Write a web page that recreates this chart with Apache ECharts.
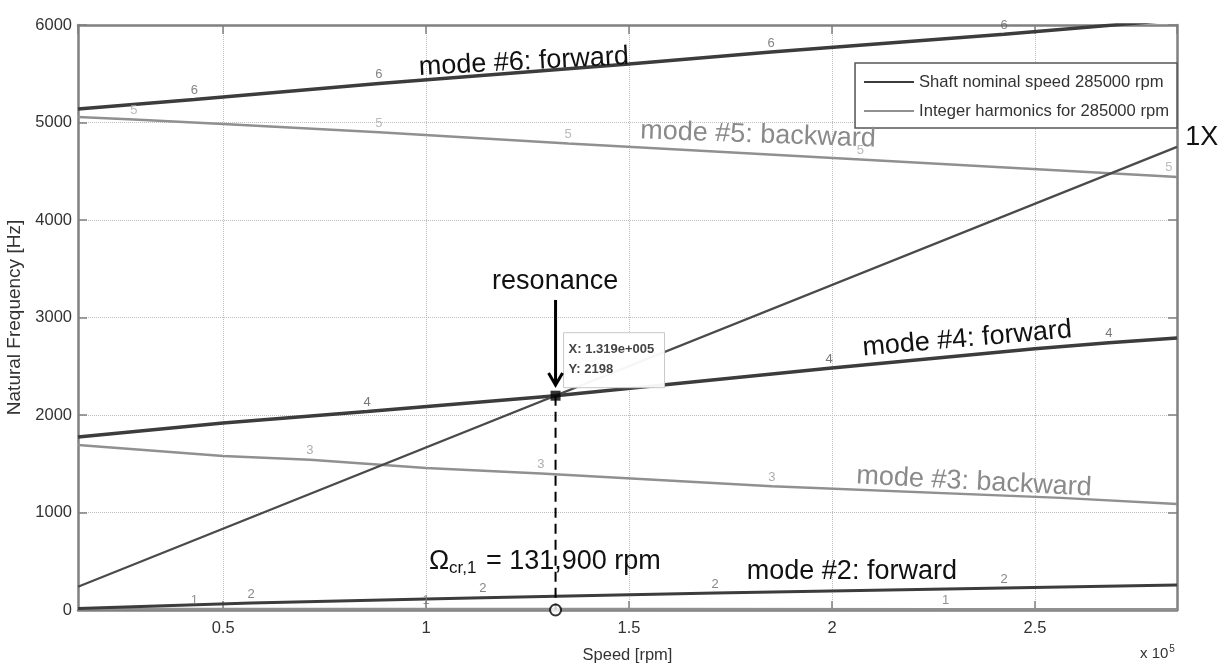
<!DOCTYPE html>
<html>
<head>
<meta charset="utf-8">
<script src="https://cdn.jsdelivr.net/npm/echarts@6/dist/echarts.min.js"></script>
<style>
html,body{margin:0;padding:0;background:#fff;}
#chart{width:1221px;height:664px;}
</style>
</head>
<body>
<div id="chart"></div>
<script>
// ---------------- data ----------------
const speedMin = 14250, speedMax = 285000;     // rpm
const freqMin = 0, freqMax = 6000, freqStep = 1000; // Hz

const mode1Speed = [14250, 42900, 100000, 150000, 228000, 285000];
const mode1Freq  = [12, 11, 10, 9, 8, 8];
const mode1Labels = [42900, 100000, 228000];

const mode2Speed = [14250, 56900, 100000, 114000, 171200, 242400, 285000];
const mode2Freq  = [15, 72, 113, 125, 174, 225, 256];
const mode2Labels = [56900, 114000, 171200, 242400];

const mode3Speed = [14250, 50000, 71400, 100000, 128300, 185200, 256400, 285000];
const mode3Freq  = [1692, 1580, 1540, 1456, 1400, 1270, 1150, 1087];
const mode3Labels = [71400, 128300, 185200];

const mode4Speed = [14250, 50000, 85500, 131900, 199300, 250000, 268200, 285000];
const mode4Freq  = [1775, 1918, 2035, 2198, 2480, 2680, 2740, 2790];
const mode4Labels = [85500, 199300, 268200];

const mode5Speed = [14250, 28000, 50000, 88400, 135000, 207000, 283000, 285000];
const mode5Freq  = [5056, 5030, 4985, 4900, 4785, 4620, 4446, 4441];
const mode5Labels = [28000, 88400, 135000, 207000, 283000];

const mode6Speed = [14250, 42900, 88400, 150000, 185000, 242400, 285000];
const mode6Freq  = [5138, 5235, 5400, 5600, 5723, 5905, 6055];
const mode6Labels = [42900, 88400, 185000, 242400];

const oneXSpeed = [14250, 285000];
const oneXFreq  = [237.5, 4750];

const resonance = [131900, 2198];
const legendNames = ['Shaft nominal speed 285000 rpm', 'Integer harmonics for 285000 rpm'];

// ---------------- styles ----------------
const FONT = 'Liberation Sans';
const DARK = '#3c3c3c', GRAY = '#909090', AXIS = '#808080';

function pts(s, f) { return s.map((v, i) => [v, f[i]]); }

function modeLine(name, s, f, color, width) {
  return { type: 'line', name: name, data: pts(s, f), symbol: 'none', showSymbol: false,
    lineStyle: { color: color, width: width }, itemStyle: { color: color }, z: 3, silent: true };
}
function modeTags(tag, s, f, marks, color) {
  return { type: 'scatter', data: pts(s, f).filter(p => marks.indexOf(p[0]) >= 0),
    symbolSize: 1, itemStyle: { color: 'rgba(0,0,0,0)' }, z: 4, silent: true,
    label: { show: true, position: 'top', distance: 2, formatter: tag,
      fontFamily: FONT, fontSize: 13, color: color } };
}

const chart = echarts.init(document.getElementById('chart'));

const axisCommonX = { type: 'value', min: speedMin, max: speedMax };
const option = {
  animation: false,
  backgroundColor: '#fff',
  grid: { left: 78, right: 44, top: 25, bottom: 54, containLabel: false, outerBoundsMode: 'none' },
  legend: {
    data: legendNames, orient: 'vertical', right: 44, top: 63,
    icon: 'rect', itemWidth: 50, itemHeight: 2, itemGap: 11,
    backgroundColor: '#fff', borderColor: '#555', borderWidth: 1.5,
    padding: [10, 8, 8, 9],
    textStyle: { fontFamily: FONT, fontSize: 16.6, lineHeight: 18, color: '#333' }
  },
  xAxis: [
    Object.assign({}, axisCommonX, {
      position: 'bottom',
      name: 'Speed [rpm]', nameLocation: 'middle', nameGap: 37,
      nameTextStyle: { fontFamily: FONT, fontSize: 16.5, color: '#333' },
      axisLine: { onZero: false, lineStyle: { color: AXIS, width: 2.5 } },
      axisTick: { inside: true, length: 9, lineStyle: { color: AXIS, width: 1.5 } },
      axisLabel: { showMinLabel: false, showMaxLabel: false, margin: 10,
        fontFamily: FONT, fontSize: 16.5, color: '#333',
        formatter: v => String(+(v / 1e5).toFixed(2)) },
      splitLine: { show: true, lineStyle: { type: 'dotted', color: '#bdbdbd', width: 1 } }
    }),
    Object.assign({}, axisCommonX, {
      position: 'top',
      axisLine: { onZero: false, lineStyle: { color: AXIS, width: 2.5 } },
      axisTick: { inside: true, length: 9, lineStyle: { color: AXIS, width: 1.5 } },
      axisLabel: { show: false }, splitLine: { show: false }
    })
  ],
  yAxis: [
    { type: 'value', min: freqMin, max: freqMax, interval: freqStep, position: 'left',
      name: 'Natural Frequency [Hz]', nameLocation: 'middle', nameGap: 51,
      nameTextStyle: { fontFamily: FONT, fontSize: 19, color: '#333' },
      axisLine: { onZero: false, lineStyle: { color: AXIS, width: 2.5 } },
      axisTick: { inside: true, length: 9, lineStyle: { color: AXIS, width: 1.5 } },
      axisLabel: { margin: 6, fontFamily: FONT, fontSize: 16.5, color: '#333', formatter: v => String(v) },
      splitLine: { show: true, lineStyle: { type: 'dotted', color: '#bdbdbd', width: 1 } } },
    { type: 'value', min: freqMin, max: freqMax, interval: freqStep, position: 'right',
      axisLine: { onZero: false, lineStyle: { color: AXIS, width: 2.5 } },
      axisTick: { inside: true, length: 9, lineStyle: { color: AXIS, width: 1.5 } },
      axisLabel: { show: false }, splitLine: { show: false } }
  ],
  series: [
    { type: 'line', name: legendNames[0], data: [], symbol: 'none',
      lineStyle: { color: DARK, width: 2 }, itemStyle: { color: DARK } },
    { type: 'line', name: legendNames[1], data: [], symbol: 'none',
      lineStyle: { color: GRAY, width: 2 }, itemStyle: { color: GRAY } },
    modeLine('mode 1', mode1Speed, mode1Freq, GRAY, 2.5),
    modeLine('mode 2', mode2Speed, mode2Freq, DARK, 3),
    modeLine('mode 3', mode3Speed, mode3Freq, GRAY, 2.5),
    modeLine('mode 4', mode4Speed, mode4Freq, DARK, 3.5),
    modeLine('mode 5', mode5Speed, mode5Freq, GRAY, 2.5),
    modeLine('mode 6', mode6Speed, mode6Freq, DARK, 3.5),
    modeLine('1X', oneXSpeed, oneXFreq, '#4a4a4a', 2.2),
    modeTags('1', mode1Speed, mode1Freq, mode1Labels, '#777'),
    modeTags('2', mode2Speed, mode2Freq, mode2Labels, '#666'),
    modeTags('3', mode3Speed, mode3Freq, mode3Labels, '#999'),
    modeTags('4', mode4Speed, mode4Freq, mode4Labels, '#555'),
    modeTags('5', mode5Speed, mode5Freq, mode5Labels, '#aaa'),
    modeTags('6', mode6Speed, mode6Freq, mode6Labels, '#666'),
    { type: 'line', data: [resonance, [resonance[0], freqMin]], symbol: 'none', z: 5, silent: true,
      lineStyle: { color: '#000', width: 2, type: [10, 6] } },
    { type: 'scatter', data: [resonance], symbol: 'rect', symbolSize: 10, z: 6, silent: true,
      itemStyle: { color: '#000' } },
    { type: 'scatter', data: [[resonance[0], freqMin]], symbol: 'emptyCircle', symbolSize: 11, z: 6,
      clip: false, silent: true, itemStyle: { color: '#000', borderColor: '#000', borderWidth: 2 } }
  ]
};
chart.setOption(option);

// ---------------- annotations placed in data coordinates ----------------
const notes = [
  { text: 'mode #6: forward',  at: [124100, 5620], color: '#111', deg: 3 },
  { text: 'mode #5: backward', at: [181800, 4872], color: '#8a8a8a', deg: -2 },
  { text: 'mode #4: forward',  at: [233300, 2780], color: '#111', deg: 5 },
  { text: 'mode #3: backward', at: [235000, 1313], color: '#8a8a8a', deg: -3 },
  { text: 'mode #2: forward',  at: [204900, 390],  color: '#111', deg: 0 },
  { text: 'resonance',         at: [131800, 3364], color: '#111', deg: 0 },
  { text: '1X',                at: [291100, 4845], color: '#111', deg: 0 }
];
const P = (s, f) => chart.convertToPixel({ gridIndex: 0 }, [s, f]);
const g = [];
notes.forEach(n => {
  const p = P(n.at[0], n.at[1]);
  g.push({ type: 'text', x: p[0], y: p[1], rotation: n.deg * Math.PI / 180, z: 20,
    style: { text: n.text, fontFamily: FONT, fontSize: 27, fill: n.color,
      align: 'center', verticalAlign: 'middle' } });
});
// Omega text
const om = P(100700, 492);
g.push({ type: 'text', x: om[0], y: om[1], z: 20,
  style: { text: '{a|Ω}{b|cr,1}{a| = 131,900 rpm}', align: 'left', verticalAlign: 'middle',
    rich: { a: { fontFamily: FONT, fontSize: 27, fill: '#111', lineHeight: 30, verticalAlign: 'middle' },
            b: { fontFamily: FONT, fontSize: 17, fill: '#111', lineHeight: 30, verticalAlign: 'bottom', padding: [14, 2, 0, 0] } } } });
// arrow
const a0 = P(resonance[0], 3180), a1 = P(resonance[0], 2308);
g.push({ type: 'line', z: 20, shape: { x1: a0[0], y1: a0[1], x2: a1[0], y2: a1[1] - 2 },
  style: { stroke: '#000', lineWidth: 3 } });
g.push({ type: 'polyline', z: 20, shape: { points: [[a1[0] - 7, a1[1] - 12], [a1[0], a1[1]], [a1[0] + 7, a1[1] - 12]] },
  style: { stroke: '#000', lineWidth: 3, fill: 'none' } });
// data tip box
const m = P(resonance[0], resonance[1]);
g.push({ type: 'rect', z: 19, shape: { x: m[0] + 8, y: m[1] - 63, width: 101, height: 55 },
  style: { fill: 'rgba(255,255,255,0.95)', stroke: '#c8c8c8', lineWidth: 1 } });
g.push({ type: 'text', z: 20, x: m[0] + 13, y: m[1] - 46,
  style: { text: 'X: 1.319e+005', fontFamily: FONT, fontSize: 13, fontWeight: 'bold', fill: '#444', verticalAlign: 'middle' } });
g.push({ type: 'text', z: 20, x: m[0] + 13, y: m[1] - 26,
  style: { text: 'Y: 2198', fontFamily: FONT, fontSize: 13, fontWeight: 'bold', fill: '#444', verticalAlign: 'middle' } });
// x 10^5 multiplier
const e = P(speedMax, freqMin);
g.push({ type: 'text', z: 20, x: e[0] - 37, y: e[1] + 44,
  style: { text: '{a|x 10}{b|5}', verticalAlign: 'middle',
    rich: { a: { fontFamily: FONT, fontSize: 15, fill: '#333', lineHeight: 20 },
            b: { fontFamily: FONT, fontSize: 10, fill: '#333', lineHeight: 20, verticalAlign: 'top', padding: [0, 0, 8, 1] } } } });
chart.setOption({ graphic: g });
</script>
</body>
</html>
